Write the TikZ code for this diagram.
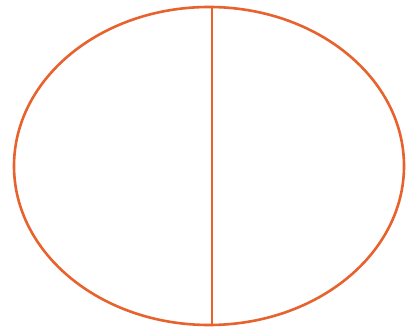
\documentclass[tikz,border=0pt]{standalone}
\definecolor{orng}{RGB}{232,98,46}
\begin{document}
\begin{tikzpicture}[x=1pt,y=-1pt,shape line/.style={draw=orng,line width=2.6pt}]
\useasboundingbox (0,0) rectangle (407,328);
\fill[white] (0,0) rectangle (407,328);
\coordinate (c) at (209,166);
\coordinate (top) at (212,7.2);
\coordinate (bot) at (212,324.8);
\draw[shape line] (c) ellipse [x radius=195, y radius=159];
\draw[shape line] (top) -- (bot);
\end{tikzpicture}
\end{document}
